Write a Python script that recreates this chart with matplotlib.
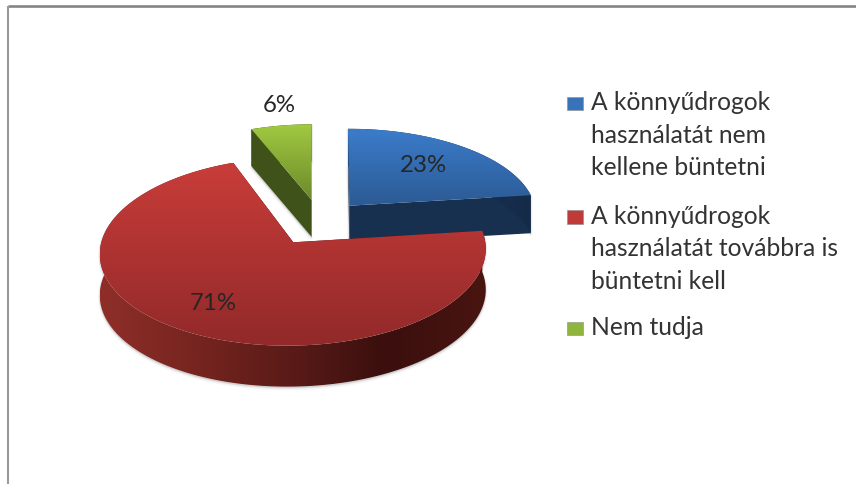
import numpy as np
import matplotlib
matplotlib.use("Agg")
import matplotlib.pyplot as plt
from matplotlib.patches import Polygon
from matplotlib.colors import to_rgb

# --- data ---
categories = ["A könnyűdrogok\nhasználatát nem\nkellene büntetni",
              "A könnyűdrogok\nhasználatát továbbra is\nbüntetni kell",
              "Nem tudja"]
shares = [23, 71, 6]
value_labels = ["23%", "71%", "6%"]

# --- style / layout (pixels) ---
W, H = 856, 484
FONT = "Lato"
P = 0.0973            # perspective strength
R, K = 192.0, 93.3    # base radii
centres = [(349.3, 205.7), (293.3, 242.3), (311.7, 200.0)]
scale_x = [0.965, 1.0, 0.93]
scale_y = [0.905, 1.0, 0.89]
skew = [-1.5, 5.6, 0.0]
depths = [38, 41, 37]
top_colors = [("#3b7cca", "#2c5a94"), ("#c83d39", "#92292a"), ("#a2c941", "#6a8a2a")]
face_colors = ["#17304f", "#4a1410", "#3f5219"]
wall_stops = [
    [(340, "#1c3a60"), (540, "#142a47")],
    [(100, "#8f2e29"), (200, "#75241f"), (300, "#571a17"), (385, "#3a0f0d"), (490, "#4a1511")],
    [(250, "#3f5219"), (315, "#3f5219")],
]
legend_colors = ["#3a72b8", "#c03a38", "#8fb53f"]
label_pos = [(423, 165), (213, 303), (279, 105.5)]
legend_x, swatch_x, swatch_w = 591, 567.5, 15.5
legend_baselines = [110, 223.7, 335.3]
swatch_baselines = [109, 222.7, 334]
line_step = 32.6

fig = plt.figure(figsize=(W / 100, H / 100), dpi=100, facecolor="white")
ax = fig.add_axes([0, 0, 1, 1])
ax.set_xlim(0, W)
ax.set_ylim(H, 0)
ax.axis("off")

# window frame
ax.plot([8.5, W], [6, 6], color="#858585", lw=1.9, solid_capstyle="butt", zorder=1)
ax.plot([8.5, 8.5], [6, H], color="#9a9a9a", lw=1.5, solid_capstyle="butt", zorder=1)


def project(i, theta):
    u, v = np.sin(theta), np.cos(theta)
    cx, cy = centres[i]
    d = 1 + P * v
    return (cx + scale_x[i] * (R * u + skew[i] * v) / d,
            cy - scale_y[i] * K * v / d)


def gradient(poly, colors_at, horizontal, z):
    """Paint a gradient clipped to a polygon."""
    xs, ys = poly[:, 0], poly[:, 1]
    x0, x1, y0, y1 = xs.min(), xs.max(), ys.min(), ys.max()
    pos, cols = zip(*colors_at)
    cols = np.array([to_rgb(c) for c in cols])
    t = np.linspace(x0, x1, 256) if horizontal else np.linspace(y0, y1, 256)
    rgb = np.stack([np.interp(t, pos, cols[:, k]) for k in range(3)], axis=-1)
    img = rgb[None, :, :] if horizontal else rgb[:, None, :]
    patch = Polygon(poly, closed=True, fc="none", ec="none", transform=ax.transData)
    ax.add_patch(patch)
    im = ax.imshow(img, extent=(x0, x1, y1, y0), aspect="auto", zorder=z,
                   interpolation="bilinear")
    im.set_clip_path(patch)


# slice angles, clockwise from 12 o'clock
total = sum(shares)
edges = np.cumsum([0] + shares) / total * 2 * np.pi

z = 3
for i in [2, 0, 1]:   # back to front
    th = np.linspace(edges[i], edges[i + 1], 240)
    ax_, ay_ = project(i, th)
    arc = np.column_stack([ax_, ay_])
    apex = np.array(centres[i])
    down = np.array([0, depths[i]])
    top = np.vstack([apex, arc])

    # soft shadow
    outline = np.vstack([top + down, arc[::-1]])
    for grow, alpha in [(2.0, 0.06), (1.0, 0.10)]:
        ax.add_patch(Polygon(outline + np.array([0, grow]), closed=True, fc="#555555",
                             ec="#555555", lw=grow * 1.2, alpha=alpha, zorder=z))
    z += 1

    # radial faces
    for end in (arc[0], arc[-1]):
        face = np.array([apex, end, end + down, apex + down])
        ax.add_patch(Polygon(face, closed=True, fc=face_colors[i], ec="none", zorder=z))
    z += 1
    # outer wall
    wall = np.vstack([arc, (arc + down)[::-1]])
    gradient(wall, wall_stops[i], True, z)
    z += 1
    # top surface
    ys = top[:, 1]
    gradient(top, [(ys.min(), top_colors[i][0]), (ys.max(), top_colors[i][1])], False, z)
    z += 1

ax.set_xlim(0, W)
ax.set_ylim(H, 0)

# value labels
for txt, (x, y) in zip(value_labels, label_pos):
    ax.text(x, y, txt, family=FONT, fontsize=17.3, color="#262626",
            ha="center", va="center", zorder=50)

# legend
for label, col, base, sb in zip(categories, legend_colors, legend_baselines, swatch_baselines):
    ax.add_patch(Polygon([[swatch_x, sb - 12.5], [swatch_x + swatch_w, sb - 12.5],
                          [swatch_x + swatch_w, sb + 1], [swatch_x, sb + 1]],
                         closed=True, fc=col, ec="#8a8a8a", lw=0.4, zorder=10))
    for n, line in enumerate(label.split("\n")):
        ax.text(legend_x, base + n * line_step, line, family=FONT, fontsize=17.7,
                color="#333333", ha="left", va="baseline", zorder=50)

fig.savefig("out.png", dpi=100, facecolor="white")
